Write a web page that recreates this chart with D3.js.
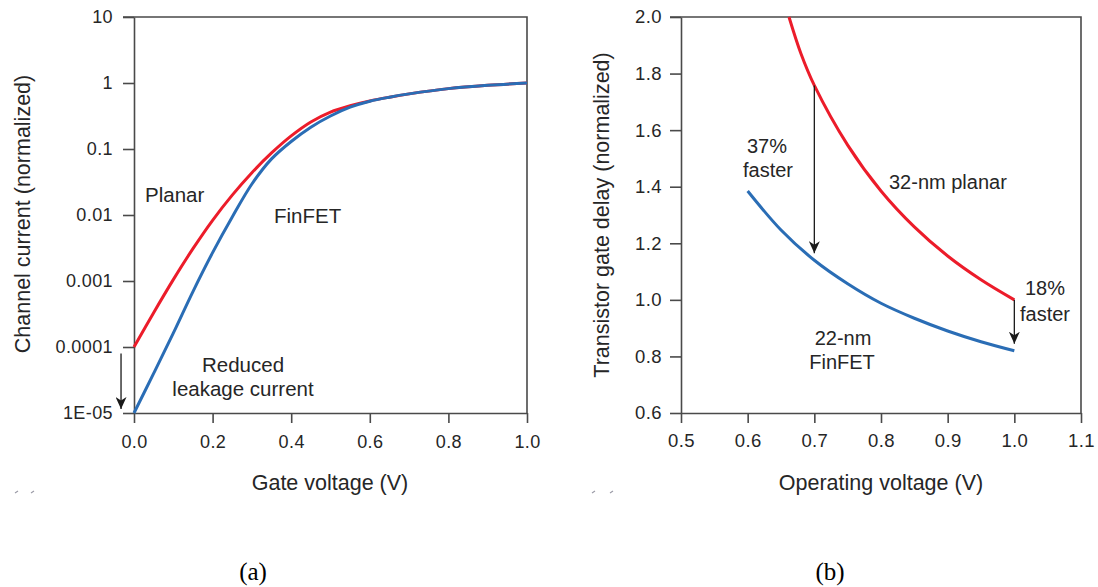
<!DOCTYPE html>
<html><head><meta charset="utf-8">
<script src="https://cdn.jsdelivr.net/npm/d3@7"></script>
<style>
body{margin:0;background:#fff}
svg{display:block}
svg text{font-family:"Liberation Sans",Arial,sans-serif;fill:#262626}
svg text.caption{font-family:"Liberation Serif","Times New Roman",serif;fill:#000}
</style></head><body>
<svg id="chart" width="1098" height="587"></svg>
<script>
// Panel (a): channel current versus gate voltage (log scale)
const gateVoltage   = [0, 0.05, 0.1, 0.15, 0.2, 0.25, 0.3, 0.35, 0.4, 0.45, 0.5, 0.55, 0.6, 0.65, 0.7, 0.8, 0.9, 1.0];
const planarCurrent = [1e-4, 3.31e-4, 1.05e-3, 3.09e-3, 8.32e-3, 0.0200, 0.0437, 0.0871, 0.158, 0.257, 0.363, 0.452, 0.535, 0.61, 0.684, 0.822, 0.923, 1.0];
const finfetCurrent = [1e-5, 3.98e-5, 1.62e-4, 6.92e-4, 2.69e-3, 9.33e-3, 0.0295, 0.0708, 0.130, 0.214, 0.316, 0.43, 0.53, 0.61, 0.684, 0.822, 0.923, 1.0];
const currentTicks      = [1e-5, 1e-4, 1e-3, 1e-2, 0.1, 1, 10];
const currentTickLabels = ["1E-05", "0.0001", "0.001", "0.01", "0.1", "1", "10"];
const gateTicks      = [0, 0.2, 0.4, 0.6, 0.8, 1.0];
const gateTickLabels = ["0.0", "0.2", "0.4", "0.6", "0.8", "1.0"];
const leakageArrow = {v: -0.033, from: 8e-5, to: 1.15e-5};

// Panel (b): transistor gate delay versus operating voltage
const planarVoltage = [0.662, 0.68, 0.7, 0.75, 0.8, 0.85, 0.9, 0.95, 1.0];
const planarDelay   = [2.0, 1.87, 1.758, 1.547, 1.385, 1.258, 1.155, 1.071, 1.0];
const finfetVoltage = [0.6, 0.65, 0.7, 0.75, 0.8, 0.85, 0.9, 0.95, 1.0];
const finfetDelay   = [1.385, 1.247, 1.14, 1.057, 0.988, 0.935, 0.89, 0.852, 0.82];
const delayTicks      = [0.6, 0.8, 1.0, 1.2, 1.4, 1.6, 1.8, 2.0];
const delayTickLabels = ["0.6", "0.8", "1.0", "1.2", "1.4", "1.6", "1.8", "2.0"];
const opTicks      = [0.5, 0.6, 0.7, 0.8, 0.9, 1.0, 1.1];
const opTickLabels = ["0.5", "0.6", "0.7", "0.8", "0.9", "1.0", "1.1"];
const speedArrows = [
  {v: 0.7, from: 1.758, to: 1.165},
  {v: 1.0, from: 1.0, to: 0.845}
];

const RED = "#ec1c2a", BLUE = "#2a6db5", AXIS = "#4a4a4a";
const svg = d3.select("#chart");

const defs = svg.append("defs");
defs.append("marker")
  .attr("id", "head").attr("viewBox", "0 0 12 11")
  .attr("refX", 12).attr("refY", 5.5)
  .attr("markerWidth", 12).attr("markerHeight", 11)
  .attr("markerUnits", "userSpaceOnUse").attr("orient", "auto")
  .append("path").attr("d", "M0,0 L12,5.5 L0,11 L3.5,5.5 Z").attr("fill", "#1a1a1a");

function styleAxis(g, fontSize) {
  g.select(".domain").attr("stroke", AXIS).attr("stroke-width", 1.6);
  g.selectAll(".tick line").attr("stroke", AXIS).attr("stroke-width", 1.6);
  g.selectAll(".tick text").attr("font-size", fontSize).style("letter-spacing", "0.4px");
}

const smooth = d3.curveCatmullRom.alpha(0.5);

// ---------- panel (a) ----------
const xA = d3.scaleLinear().domain([0, 1]).range([134, 527]);
const yA = d3.scaleLog().domain([1e-5, 10]).range([413, 17]);

svg.append("g").attr("transform", "translate(134,0)")
  .call(d3.axisLeft(yA).tickValues(currentTicks)
    .tickFormat((d, i) => currentTickLabels[i]).tickSize(11).tickSizeOuter(0).tickPadding(10))
  .call(g => styleAxis(g, 18));
svg.append("g").attr("transform", "translate(0,413)")
  .call(d3.axisBottom(xA).tickValues(gateTicks)
    .tickFormat((d, i) => gateTickLabels[i]).tickSize(10).tickSizeOuter(0).tickPadding(12))
  .call(g => styleAxis(g, 18));
// frame: top and right edges
svg.append("path")
  .attr("d", `M${xA(0) - 11},${yA(10)} H${xA(1)} V${yA(1e-5)}`)
  .attr("fill", "none").attr("stroke", AXIS).attr("stroke-width", 1.6);

const lineA = d3.line().x(d => xA(d[0])).y(d => yA(d[1])).curve(smooth);
svg.append("path").datum(d3.zip(gateVoltage, planarCurrent)).attr("d", lineA)
  .attr("fill", "none").attr("stroke", RED).attr("stroke-width", 3);
svg.append("path").datum(d3.zip(gateVoltage, finfetCurrent)).attr("d", lineA)
  .attr("fill", "none").attr("stroke", BLUE).attr("stroke-width", 3);

svg.append("line")
  .attr("x1", xA(leakageArrow.v)).attr("x2", xA(leakageArrow.v))
  .attr("y1", yA(leakageArrow.from)).attr("y2", yA(leakageArrow.to))
  .attr("stroke", "#1a1a1a").attr("stroke-width", 1.3).attr("marker-end", "url(#head)");

const labelsA = [
  {t: "Planar", x: 145, y: 202, a: "start"},
  {t: "FinFET", x: 274, y: 223, a: "start"},
  {t: "Reduced", x: 243, y: 372, a: "middle"},
  {t: "leakage current", x: 243, y: 396, a: "middle"}
];
svg.selectAll(".labA").data(labelsA).join("text")
  .attr("x", d => d.x).attr("y", d => d.y).attr("text-anchor", d => d.a)
  .attr("font-size", 20.5).text(d => d.t);

svg.append("text").attr("x", 330).attr("y", 490).attr("text-anchor", "middle")
  .attr("font-size", 21.5).text("Gate voltage (V)");
svg.append("text").attr("transform", "translate(30,214) rotate(-90)")
  .attr("text-anchor", "middle").attr("font-size", 21.5).text("Channel current (normalized)");

// ---------- panel (b) ----------
const xB = d3.scaleLinear().domain([0.5, 1.1]).range([681, 1081]);
const yB = d3.scaleLinear().domain([0.6, 2.0]).range([413, 17]);

svg.append("g").attr("transform", "translate(681,0)")
  .call(d3.axisLeft(yB).tickValues(delayTicks)
    .tickFormat((d, i) => delayTickLabels[i]).tickSize(11).tickSizeOuter(0).tickPadding(8))
  .call(g => styleAxis(g, 18.5));
svg.append("g").attr("transform", "translate(0,413)")
  .call(d3.axisBottom(xB).tickValues(opTicks)
    .tickFormat((d, i) => opTickLabels[i]).tickSize(10).tickSizeOuter(0).tickPadding(11))
  .call(g => styleAxis(g, 18.5));
svg.append("path")
  .attr("d", `M${xB(0.5) - 11},${yB(2.0)} H${xB(1.1)} V${yB(0.6)}`)
  .attr("fill", "none").attr("stroke", AXIS).attr("stroke-width", 1.6);

const lineB = d3.line().x(d => xB(d[0])).y(d => yB(d[1])).curve(smooth);
svg.append("path").datum(d3.zip(planarVoltage, planarDelay)).attr("d", lineB)
  .attr("fill", "none").attr("stroke", RED).attr("stroke-width", 3);
svg.append("path").datum(d3.zip(finfetVoltage, finfetDelay)).attr("d", lineB)
  .attr("fill", "none").attr("stroke", BLUE).attr("stroke-width", 3);

svg.selectAll(".arrB").data(speedArrows).join("line")
  .attr("x1", d => xB(d.v)).attr("x2", d => xB(d.v))
  .attr("y1", d => yB(d.from)).attr("y2", d => yB(d.to))
  .attr("stroke", "#1a1a1a").attr("stroke-width", 1.3).attr("marker-end", "url(#head)");

const labelsB = [
  {t: "37%", x: 767, y: 153, a: "middle"},
  {t: "faster", x: 768, y: 177, a: "middle"},
  {t: "32-nm planar", x: 889, y: 189, a: "start"},
  {t: "18%", x: 1045, y: 295, a: "middle"},
  {t: "faster", x: 1045, y: 321, a: "middle"},
  {t: "22-nm", x: 843, y: 345, a: "middle"},
  {t: "FinFET", x: 842, y: 369, a: "middle"}
];
svg.selectAll(".labB").data(labelsB).join("text")
  .attr("x", d => d.x).attr("y", d => d.y).attr("text-anchor", d => d.a)
  .attr("font-size", 20).text(d => d.t);

svg.append("text").attr("x", 881).attr("y", 490).attr("text-anchor", "middle")
  .attr("font-size", 21.5).text("Operating voltage (V)");
svg.append("text").attr("transform", "translate(609,215) rotate(-90)")
  .attr("text-anchor", "middle").attr("font-size", 21.5).text("Transistor gate delay (normalized)");

// small stray marks below each panel
[[15, 31], [592, 610]].forEach(xs => xs.forEach(x => {
  svg.append("line").attr("x1", x).attr("x2", x + 3).attr("y1", 493).attr("y2", 491)
    .attr("stroke", "#9a9aa6").attr("stroke-width", 1.2);
}));

// panel captions
svg.append("text").attr("class", "caption").attr("x", 253).attr("y", 580)
  .attr("text-anchor", "middle").attr("font-size", 25).text("(a)");
svg.append("text").attr("class", "caption").attr("x", 830).attr("y", 580)
  .attr("text-anchor", "middle").attr("font-size", 25).text("(b)");
</script>
</body></html>
